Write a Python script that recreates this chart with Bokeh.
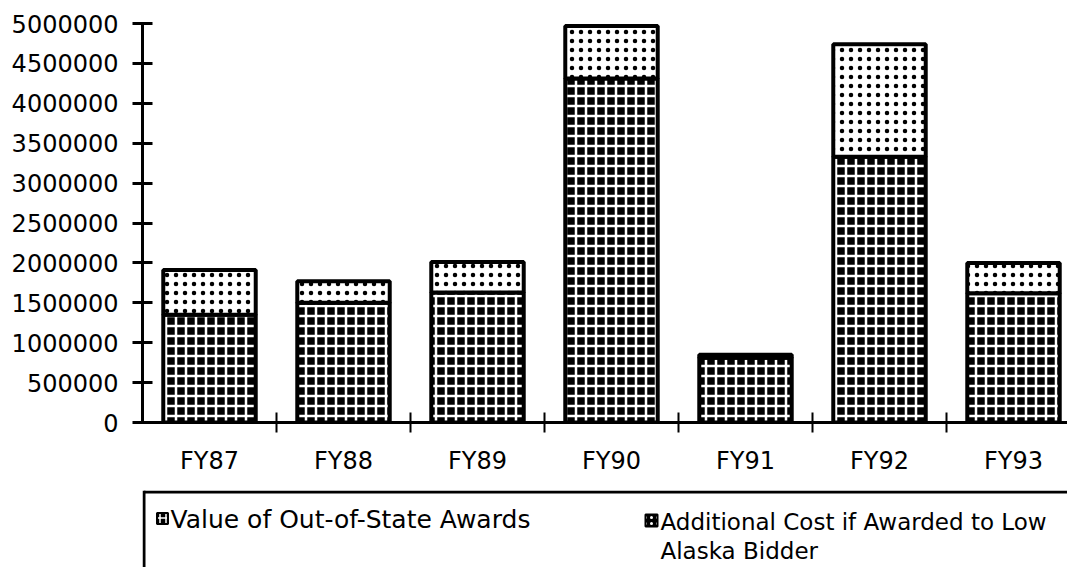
from bokeh.plotting import figure
from bokeh.models import FixedTicker, Range1d, ColumnDataSource, NumeralTickFormatter
from bokeh.layouts import column
from bokeh.embed import file_html
from bokeh.resources import INLINE
from bokeh.core.properties import value

# ---- data ----
categories = ["FY87", "FY88", "FY89", "FY90", "FY91", "FY92", "FY93"]
out_of_state = [1350000, 1500000, 1630000, 4310000, 810000, 3330000, 1620000]
additional_cost = [560000, 270000, 380000, 660000, 40000, 1410000, 380000]
y_ticks = [0, 500000, 1000000, 1500000, 2000000, 2500000, 3000000,
           3500000, 4000000, 4500000, 5000000]
series_names = ["Value of Out-of-State Awards",
                "Additional Cost if Awarded to Low Alaska Bidder"]

FONT = "DejaVu Sans"
W = 1067
FRAME_LEFT = 142
CAT_PX = 134.0
MAIN_H = 490
LEG_H = 77

xs = list(range(1, len(categories) + 1))
totals = [a + b for a, b in zip(out_of_state, additional_cost)]
src = ColumnDataSource(dict(x=xs, cat=categories, base=out_of_state,
                            extra=additional_cost, total=totals))

p = figure(width=W, height=MAIN_H, output_backend="svg", toolbar_location=None,
           x_range=Range1d(0.5, 0.5 + (W - FRAME_LEFT) / CAT_PX),
           y_range=Range1d(0, 5000000),
           min_border_left=FRAME_LEFT, min_border_right=0,
           min_border_top=23, min_border_bottom=MAIN_H - 422)
p.outline_line_color = None
p.grid.visible = False
p.background_fill_color = "white"

BAR_W = 0.69
p.vbar(x="x", width=BAR_W, bottom=0, top="base", source=src,
       fill_color="black", hatch_pattern="+", hatch_color="white",
       hatch_scale=10, hatch_weight=2.5, line_color="black", line_width=4)
p.vbar(x="x", width=BAR_W, bottom="base", top="total", source=src,
       fill_color="white", hatch_pattern=".", hatch_color="black",
       hatch_scale=9, hatch_weight=2, line_color="black", line_width=4)

# y axis
yax = p.yaxis[0]
yax.ticker = FixedTicker(ticks=y_ticks)
yax.formatter = NumeralTickFormatter(format="0")
yax.axis_line_width = 3
yax.major_tick_line_width = 3
yax.major_tick_in = 10
yax.major_tick_out = 10
yax.minor_tick_line_color = None
yax.major_label_standoff = 14
yax.major_label_text_font = FONT
yax.major_label_text_font_size = "24px"
yax.major_label_text_color = "black"

# x axis
xax = p.xaxis[0]
xax.ticker = FixedTicker(ticks=xs, minor_ticks=[i + 0.5 for i in xs[:-1]])
xax.major_label_overrides = {i: c for i, c in zip(xs, categories)}
xax.axis_line_width = 3
xax.major_tick_in = 0
xax.major_tick_out = 0
xax.minor_tick_in = 10
xax.minor_tick_out = 10
xax.minor_tick_line_width = 2
xax.major_label_standoff = 14
xax.major_label_text_font = FONT
xax.major_label_text_font_size = "24px"
xax.major_label_text_color = "black"

# ---- legend panel (box cut off at right and bottom, as in the reference) ----
lg = figure(width=W, height=LEG_H, output_backend="svg", toolbar_location=None,
            x_range=Range1d(FRAME_LEFT, W), y_range=Range1d(LEG_H, 0),
            x_axis_type=None, y_axis_type=None,
            min_border_left=FRAME_LEFT, min_border_right=0,
            min_border_top=0, min_border_bottom=0)
lg.outline_line_color = None
lg.grid.visible = False
lg.segment(x0=[143.5, 143.5], y0=[1.5, 0], x1=[W, 143.5], y1=[1.5, LEG_H],
           line_color="black", line_width=3)
lg.rect(x=[162], y=[28], width=11, height=11, fill_color="black",
        hatch_pattern="+", hatch_color="white", hatch_scale=6, hatch_weight=1.5,
        line_color="black", line_width=2)
lg.rect(x=[651], y=[30], width=12, height=12, fill_color="black",
        hatch_pattern=".", hatch_color="white", hatch_scale=6,
        line_color="black", line_width=2)
name2_a, name2_b = series_names[1].rsplit(" Alaska", 1)
lg.text(x=[170], y=[29], text=[series_names[0]],
        text_font=value(FONT), text_font_size="25px", text_color="black",
        text_baseline="middle", text_align="left")
lg.text(x=[660, 660], y=[31, 60], text=[name2_a, "Alaska" + name2_b],
        text_font=value(FONT), text_font_size="23px", text_color="black",
        text_baseline="middle", text_align="left")

layout = column(p, lg, spacing=0)
open("out.html", "w").write(file_html(layout, INLINE))
